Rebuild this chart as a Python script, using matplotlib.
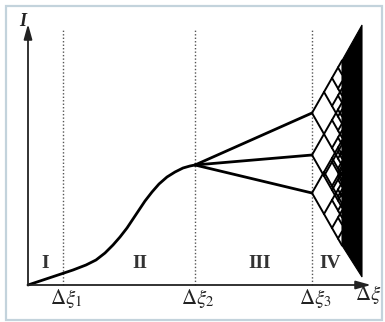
import matplotlib.pyplot as plt
import matplotlib.patches as mpatches

plt.rcParams["mathtext.fontset"] = "stix"
plt.rcParams["font.family"] = ["Liberation Serif", "DejaVu Serif"]

# boundaries of the regions (Δξ1, Δξ2, Δξ3)
xi_bounds = [35, 167, 284]
xi_labels = [r"$\Delta\xi_1$", r"$\Delta\xi_2$", r"$\Delta\xi_3$"]
region_x = [17, 112, 232, 302]
region_labels = ["I", "II", "III", "IV"]

# smooth rise up to the first bifurcation
curve_x = [0, 15, 30, 45, 58, 68, 77, 85, 92, 99, 105, 111, 117, 124, 131,
           139, 147, 155, 162, 167]
curve_y = [0, 5, 10, 15, 20, 25, 32, 40, 48, 57, 66, 75, 84, 93, 101,
           108, 113, 117, 119, 120]

# three branches after Δξ2
branch_y = [172, 130, 92]

# period doubling cascade after Δξ3
cascade_x = [284, 296, 304, 310, 314]
cascade_slope = 1.75

# chaotic (black) region
chaos_x = [314, 334, 334, 314]
chaos_y = [224.5, 260, 8, 39.5]

fig = plt.figure(figsize=(3.85, 3.22), dpi=100)
ax = fig.add_axes([0, 0, 1, 1])
ax.set_xlim(-28, 357)
ax.set_ylim(-37, 285)
ax.axis("off")

# frame
ax.add_patch(mpatches.Rectangle((-22, -35), 376, 314, fill=False,
                                edgecolor="#c3d3dc", lw=1.6))

# axes arrows
ax.annotate("", xy=(343, 0), xytext=(0, 0),
            arrowprops=dict(arrowstyle="-|>,head_length=0.9,head_width=0.25",
                            color="#222222", lw=1.3, shrinkA=0, shrinkB=0))
ax.annotate("", xy=(0, 261), xytext=(0, 0),
            arrowprops=dict(arrowstyle="-|>,head_length=0.9,head_width=0.25",
                            color="#222222", lw=1.3, shrinkA=0, shrinkB=0))
ax.text(-5, 264, "I", fontsize=13, fontstyle="italic", fontweight="bold",
        ha="center", va="center", color="#222222")
ax.text(340, -9, r"$\Delta\xi$", fontsize=15, ha="center",
        va="center", color="#222222")

# dotted region boundaries
for xb, lab in zip(xi_bounds, xi_labels):
    ax.plot([xb, xb], [0, 255], ls=(0, (1, 1.5)), color="#555555", lw=1.0)
    ax.text(xb + 3, -13, lab, fontsize=15, ha="center", va="center",
            color="#222222")

for xr, lab in zip(region_x, region_labels):
    ax.text(xr, 22, lab, fontsize=14, fontweight="bold", ha="center",
            va="center", color="#333333")

# main curve
ax.plot(curve_x, curve_y, color="black", lw=2.0, solid_capstyle="round",
        solid_joinstyle="round")

# branches
for by in branch_y:
    ax.plot([xi_bounds[1], xi_bounds[2]], [curve_y[-1], by], color="black",
            lw=2.0, solid_capstyle="round")

# cascade lattice
nodes = list(branch_y)
for i in range(len(cascade_x) - 1):
    x0, x1 = cascade_x[i], cascade_x[i + 1]
    dy = cascade_slope * (x1 - x0)
    new_nodes = []
    for y0 in nodes:
        for sgn in (1, -1):
            ax.plot([x0, x1], [y0, y0 + sgn * dy], color="black", lw=1.4,
                    solid_capstyle="round")
            new_nodes.append(round(y0 + sgn * dy, 3))
    nodes = sorted(set(new_nodes))

ax.fill(chaos_x, chaos_y, color="black", lw=0.8, edgecolor="black")

fig.savefig("out.png", dpi=100, facecolor="white")
